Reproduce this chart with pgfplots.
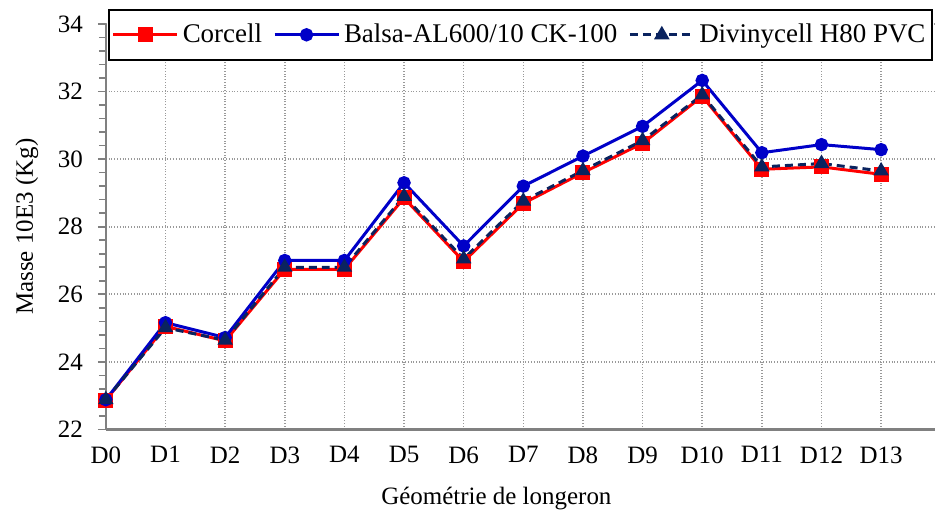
\documentclass[border=0pt]{standalone}
\usepackage{fontspec}
\setmainfont{Liberation Serif}
\usepackage{pgfplots}
\pgfplotsset{compat=1.18}
\definecolor{cred}{RGB}{255,0,0}
\definecolor{cblue}{RGB}{0,0,200}
\definecolor{cnavy}{RGB}{10,35,95}
\begin{document}
\begin{tikzpicture}
\begin{axis}[
  scale only axis,
  width=415pt, height=203pt,
  xmin=0, xmax=13.9,
  ymin=22, ymax=34,
  clip=false,
  xtick={0,...,13},
  xticklabels={D0,D1,D2,D3,D4,D5,D6,D7,D8,D9,D10,D11,D12,D13},
  ytick={22,24,...,34},
  minor y tick num=4,
  grid=major,
  major grid style={densely dotted, gray!80, line width=0.8pt},
  axis x line*=bottom,
  axis y line*=left,
  axis line style={gray, line width=1.2pt},
  tick align=outside,
  xtick style={draw=none},
  ytick style={gray, line width=0.8pt},
  major tick length=4pt, minor tick length=3.5pt,
  ticklabel style={font=\fontsize{12.5}{15}\selectfont},
  yticklabel style={xshift=-4pt},
  xticklabel style={yshift=-1pt},
  /pgf/number format/assume math mode=true,
  xlabel={Géométrie de longeron},
  ylabel={Masse 10E3 (Kg)},
  label style={font=\fontsize{12.5}{15}\selectfont},
  xlabel style={xshift=-12pt, yshift=-5pt},
  ylabel style={yshift=3pt},
  legend columns=3,
  legend style={at={(0.0024,1.037)}, anchor=north west, draw=black, line width=1pt,
    inner xsep=1.5pt, inner ysep=5pt, font=\fontsize{13.5}{16}\selectfont,
    /tikz/every even column/.append style={column sep=3.5pt}},
  legend image code/.code={\draw[mark repeat=2,mark phase=2] plot coordinates {(0pt,0pt)(16pt,0pt)(32pt,0pt)};},
]
\addplot[color=cred, line width=1.5pt, mark=square*, mark size=3pt, mark options={solid}] coordinates {
  (0,22.87) (1,25.05) (2,24.62) (3,26.74) (4,26.74) (5,28.85) (6,26.97)
  (7,28.69) (8,29.6) (9,30.47) (10,31.86) (11,29.7) (12,29.77) (13,29.55)
};
\addplot[color=cblue, line width=1.5pt, mark=*, mark size=2.6pt, mark options={solid}] coordinates {
  (0,22.88) (1,25.16) (2,24.72) (3,27.0) (4,27.0) (5,29.3) (6,27.43)
  (7,29.2) (8,30.09) (9,30.97) (10,32.33) (11,30.19) (12,30.43) (13,30.28)
};
\addplot[color=cnavy, line width=1.5pt, dash pattern=on 4pt off 2.5pt, mark=triangle*, mark size=3pt, mark options={solid}] coordinates {
  (0,22.88) (1,25.01) (2,24.64) (3,26.8) (4,26.8) (5,28.9) (6,27.05)
  (7,28.76) (8,29.66) (9,30.55) (10,31.9) (11,29.77) (12,29.87) (13,29.65)
};
\legend{Corcell, Balsa-AL600/10 CK-100, Divinycell H80 PVC}
\end{axis}
\path (-53pt,-40.5pt) rectangle (415pt,215pt);
\end{tikzpicture}
\end{document}
